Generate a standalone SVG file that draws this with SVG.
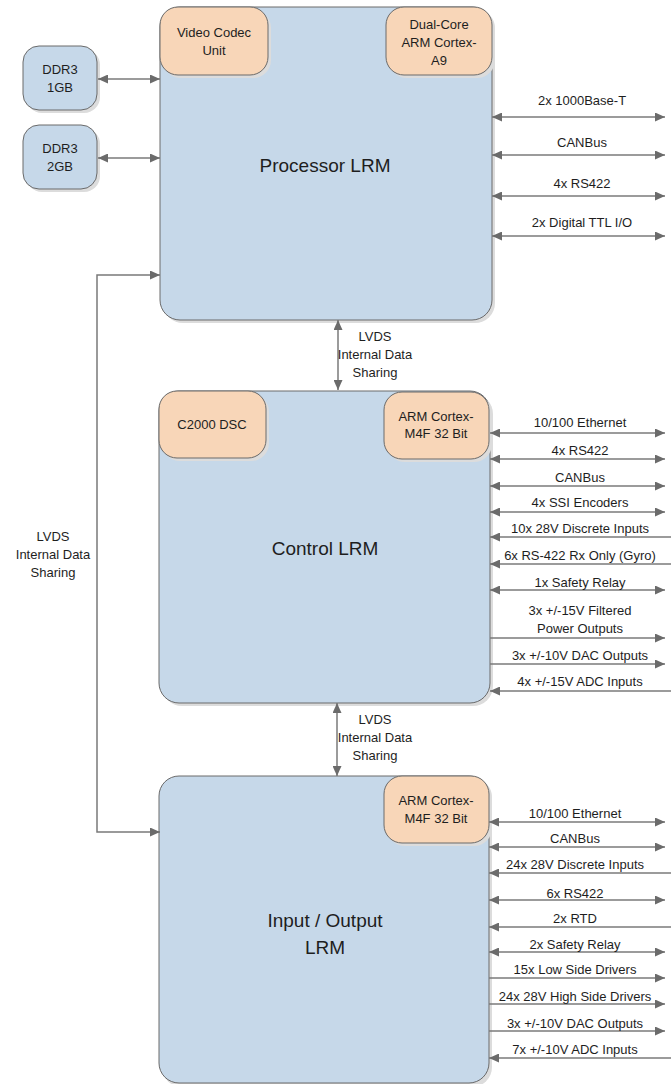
<svg xmlns="http://www.w3.org/2000/svg" width="671" height="1084" viewBox="0 0 671 1084">
<defs>
<marker id="ah" markerUnits="userSpaceOnUse" markerWidth="10" markerHeight="9" refX="10" refY="4.5" orient="auto-start-reverse">
<path d="M0,0 L10,4.5 L0,9 z" fill="#6b6b6b"/>
</marker>
</defs>
<style>
.box{fill:#c6d8e9;stroke:#6a6a6a;stroke-width:1}
.sub{fill:#f8d6b8;stroke:#6a6a6a;stroke-width:1}
.sh{fill:#dcdcdc}
.t{font-family:"Liberation Sans",Arial,sans-serif;font-size:13px;fill:#1e1e1e;text-anchor:middle}
.title{font-family:"Liberation Sans",Arial,sans-serif;font-size:19px;fill:#1e1e1e;text-anchor:middle}
.c{fill:none;stroke:#7a7a7a;stroke-width:1.5}
.cs{fill:none;stroke:#e2e2e2;stroke-width:1.5}
.bi{marker-start:url(#ah);marker-end:url(#ah)}
.one{marker-end:url(#ah)}
</style>
<rect width="671" height="1084" fill="#ffffff"/>

<g id="ddr3-1gb">
<rect class="sh" x="26" y="49" width="74" height="64" rx="16"/>
<rect class="box" x="23" y="46" width="74" height="64" rx="16"/>
<text class="t" x="60" y="74">DDR3</text>
<text class="t" x="60" y="92">1GB</text>
</g>
<g id="ddr3-2gb">
<rect class="sh" x="26" y="128" width="74" height="64" rx="16"/>
<rect class="box" x="23" y="125" width="74" height="64" rx="16"/>
<text class="t" x="60" y="153">DDR3</text>
<text class="t" x="60" y="171">2GB</text>
</g>

<g id="processor-lrm">
<rect class="sh" x="163" y="10" width="332" height="313" rx="20"/>
<rect class="box" x="160" y="7" width="332" height="313" rx="20"/>
<text class="title" x="325" y="172">Processor LRM</text>
</g>
<g id="video-codec">
<rect class="sh" x="163" y="10" width="108" height="68" rx="18"/>
<rect class="sub" x="160" y="7" width="108" height="68" rx="18"/>
<text class="t" x="214" y="37">Video Codec</text>
<text class="t" x="214" y="55">Unit</text>
</g>
<g id="dual-core-a9">
<rect class="sh" x="389" y="10" width="106" height="68" rx="18"/>
<rect class="sub" x="386" y="7" width="106" height="68" rx="18"/>
<text class="t" x="439" y="29">Dual-Core</text>
<text class="t" x="439" y="47">ARM Cortex-</text>
<text class="t" x="439" y="65">A9</text>
</g>

<g id="control-lrm">
<rect class="sh" x="162" y="394" width="331" height="312" rx="20"/>
<rect class="box" x="159" y="391" width="331" height="312" rx="20"/>
<text class="title" x="325" y="555">Control LRM</text>
</g>
<g id="c2000-dsc">
<rect class="sh" x="162" y="394" width="107" height="67" rx="18"/>
<rect class="sub" x="159" y="391" width="107" height="67" rx="18"/>
<text class="t" x="212" y="429">C2000 DSC</text>
</g>
<g id="control-arm-m4f">
<rect class="sh" x="387" y="395" width="105" height="67" rx="18"/>
<rect class="sub" x="384" y="392" width="105" height="67" rx="18"/>
<text class="t" x="436" y="421">ARM Cortex-</text>
<text class="t" x="436" y="438">M4F 32 Bit</text>
</g>

<g id="io-lrm">
<rect class="sh" x="162" y="779" width="330" height="308" rx="20"/>
<rect class="box" x="159" y="776" width="330" height="307" rx="20"/>
<text class="title" x="325" y="927">Input / Output</text>
<text class="title" x="325" y="954">LRM</text>
</g>
<g id="io-arm-m4f">
<rect class="sh" x="387" y="779" width="105" height="67" rx="18"/>
<rect class="sub" x="384" y="776" width="105" height="67" rx="18"/>
<text class="t" x="436" y="805">ARM Cortex-</text>
<text class="t" x="436" y="823">M4F 32 Bit</text>
</g>

<g id="connectors">
<!-- DDR -->
<path class="c bi" d="M98,79 H160"/>
<path class="c bi" d="M98,158 H160"/>
<!-- left LVDS loop -->
<path class="c bi" d="M160,275 H97 V832 H160"/>
<!-- vertical LVDS -->
<path class="c bi" d="M338,320 V390"/>
<path class="c bi" d="M337,703 V776"/>

<!-- processor -->
<path class="c bi" d="M492,117 H665"/>
<path class="c bi" d="M492,155 H665"/>
<path class="c bi" d="M492,196 H665"/>
<path class="c bi" d="M492,236 H665"/>

<!-- control -->
<path class="c bi" d="M490,433 H665"/>
<path class="c bi" d="M490,459 H665"/>
<path class="c bi" d="M490,486 H665"/>
<path class="c bi" d="M490,512 H665"/>
<path class="c one" d="M671,537 H490"/>
<path class="c one" d="M671,564 H490"/>
<path class="c bi" d="M490,590 H665"/>
<path class="c one" d="M490,638 H665"/>
<path class="c one" d="M490,664 H665"/>
<path class="c one" d="M671,691 H490"/>

<!-- io -->
<path class="c bi" d="M489,822 H665"/>
<path class="c bi" d="M489,847 H665"/>
<path class="c one" d="M671,873 H489"/>
<path class="c bi" d="M489,900 H665"/>
<path class="c one" d="M671,927 H489"/>
<path class="c bi" d="M489,952 H665"/>
<path class="c one" d="M489,978 H665"/>
<path class="c one" d="M489,1004 H665"/>
<path class="c one" d="M489,1031 H665"/>
<path class="c one" d="M671,1058 H489"/>

<!-- labels -->
<text class="t" x="53" y="541">LVDS</text>
<text class="t" x="53" y="559">Internal Data</text>
<text class="t" x="53" y="577">Sharing</text>
<text class="t" x="375" y="341">LVDS</text>
<text class="t" x="375" y="359">Internal Data</text>
<text class="t" x="375" y="377">Sharing</text>
<text class="t" x="375" y="724">LVDS</text>
<text class="t" x="375" y="742">Internal Data</text>
<text class="t" x="375" y="760">Sharing</text>

<text class="t" x="582" y="105">2x 1000Base-T</text>
<text class="t" x="582" y="147">CANBus</text>
<text class="t" x="582" y="188">4x RS422</text>
<text class="t" x="582" y="227">2x Digital TTL I/O</text>

<text class="t" x="580" y="426.5">10/100 Ethernet</text>
<text class="t" x="580" y="454.5">4x RS422</text>
<text class="t" x="580" y="481.5">CANBus</text>
<text class="t" x="580" y="506.5">4x SSI Encoders</text>
<text class="t" x="580" y="532.5">10x 28V Discrete Inputs</text>
<text class="t" x="580" y="559.5">6x RS-422 Rx Only (Gyro)</text>
<text class="t" x="580" y="586.5">1x Safety Relay</text>
<text class="t" x="580" y="614.5">3x +/-15V Filtered</text>
<text class="t" x="580" y="632.5">Power Outputs</text>
<text class="t" x="580" y="659.5">3x +/-10V DAC Outputs</text>
<text class="t" x="580" y="685.5">4x +/-15V ADC Inputs</text>

<text class="t" x="575" y="817.5">10/100 Ethernet</text>
<text class="t" x="575" y="842.5">CANBus</text>
<text class="t" x="575" y="868.5">24x 28V Discrete Inputs</text>
<text class="t" x="575" y="897.5">6x RS422</text>
<text class="t" x="575" y="922.5">2x RTD</text>
<text class="t" x="575" y="948.5">2x Safety Relay</text>
<text class="t" x="575" y="973.5">15x Low Side Drivers</text>
<text class="t" x="575" y="1000.5">24x 28V High Side Drivers</text>
<text class="t" x="575" y="1027.5">3x +/-10V DAC Outputs</text>
<text class="t" x="575" y="1053.5">7x +/-10V ADC Inputs</text>
</g>
</svg>
